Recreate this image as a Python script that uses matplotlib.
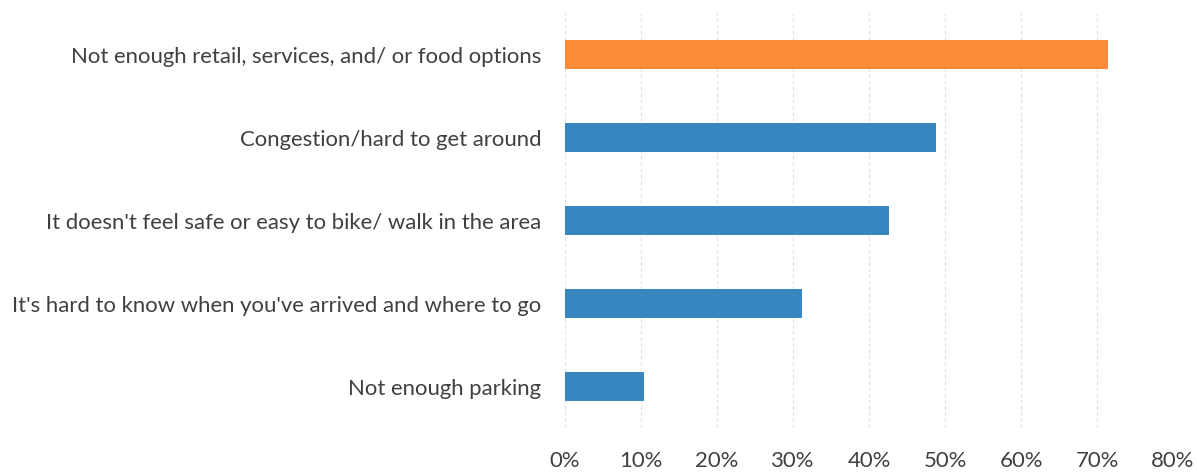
import matplotlib.pyplot as plt
from matplotlib.ticker import PercentFormatter

# Survey responses, top to bottom
categories = [
  "Not enough retail, services, and/ or food options",
  "Congestion/hard to get around",
  "It doesn't feel safe or easy to bike/ walk in the area",
  "It's hard to know when you've arrived and where to go",
  "Not enough parking",
]
shares = [71.4, 48.8, 42.6, 31.2, 10.4]
colors = ["#fd8c3a", "#3886bf", "#3886bf", "#3886bf", "#3886bf"]
xticks = [0, 10, 20, 30, 40, 50, 60, 70, 80]

plt.rcParams['font.family'] = ['Lato', 'DejaVu Sans']

fig = plt.figure(figsize=(11.97, 4.75), dpi=100)
ax = fig.add_axes([0.472, 0.098, 0.508, 0.874])

ypos = list(range(len(categories)))
ax.barh(ypos, shares, height=0.35, color=colors, zorder=3)

ax.set_ylim(len(categories) - 0.5, -0.5)
ax.set_xlim(0, 80)
ax.set_yticks(ypos)
ax.set_yticklabels(categories, fontsize=15.9, color="#404040")
ax.set_xticks(xticks)
ax.xaxis.set_major_formatter(PercentFormatter(decimals=0))
ax.tick_params(axis='x', labelsize=15.9, labelcolor="#404040", length=0, pad=16)
ax.tick_params(axis='y', length=0, pad=17)

ax.grid(axis='x', color="#e4e4e4", linestyle=(0, (3, 2)), linewidth=0.9, zorder=0)
for s in ax.spines.values():
  s.set_visible(False)

fig.savefig("out.png", dpi=100)
